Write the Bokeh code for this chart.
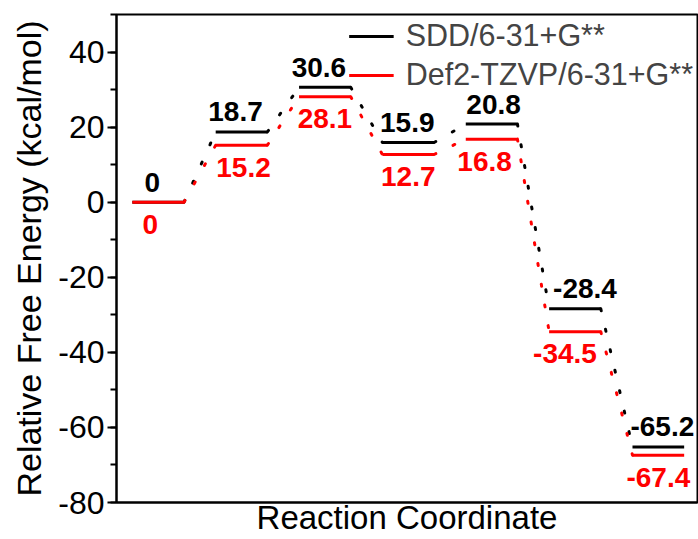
from bokeh.plotting import figure
from bokeh.models import Range1d, FixedTicker, ColumnDataSource, Legend, PrintfTickFormatter
from bokeh.core.properties import value
from bokeh.embed import file_html
from bokeh.resources import INLINE

# ---- data ----
states = [1, 2, 3, 4, 5, 6, 7]
sdd = [0, 18.7, 30.6, 15.9, 20.8, -28.4, -65.2]
def2 = [0, 15.2, 28.1, 12.7, 16.8, -34.5, -67.4]
sdd_labels = ["0", "18.7", "30.6", "15.9", "20.8", "-28.4", "-65.2"]
def2_labels = ["0", "15.2", "28.1", "12.7", "16.8", "-34.5", "-67.4"]
series_names = ["SDD/6-31+G**", "Def2-TZVP/6-31+G**"]
y_ticks = [-80, -60, -40, -20, 0, 20, 40]
x_title = "Reaction Coordinate"
y_title = "Relative Free Energy (kcal/mol)"

# ---- style ----
HW = 0.31  # half width of an energy level (x units)
BLACK = "#000000"
RED = "#ff0000"
FONT = "Liberation Sans"
sdd_dx = [-6, -6, -6, -1, 2, 10, 4]     # label nudges (px)
def2_dx = [-8, 2, 0, 0, -7, -10, 0]

p = figure(width=698, height=538, output_backend="svg", toolbar_location=None,
           x_range=Range1d(0.5, 7.47), y_range=Range1d(-80, 50),
           min_border_left=116, min_border_right=1, min_border_top=14,
           min_border_bottom=36)
p.grid.visible = False
p.outline_line_color = BLACK
p.outline_line_width = 2
p.background_fill_color = "white"
p.border_fill_color = "white"

# y axis
p.yaxis.ticker = FixedTicker(ticks=y_ticks, minor_ticks=list(range(-80, 51, 10)))
p.yaxis.formatter = PrintfTickFormatter(format="%d")
p.yaxis.axis_label = y_title
p.yaxis.axis_label_text_font = FONT
p.yaxis.axis_label_text_font_style = "normal"
p.yaxis.axis_label_text_font_size = "34px"
p.yaxis.axis_label_text_color = BLACK
p.yaxis.axis_label_standoff = 7
p.yaxis.major_label_text_font = FONT
p.yaxis.major_label_text_font_size = "32px"
p.yaxis.major_label_text_color = BLACK
p.yaxis.major_label_standoff = 3
p.yaxis.major_tick_in = 0
p.yaxis.major_tick_out = 9
p.yaxis.minor_tick_in = 0
p.yaxis.minor_tick_out = 6
p.yaxis.axis_line_width = 2
p.yaxis.major_tick_line_width = 2
p.yaxis.minor_tick_line_width = 2

# x axis
p.xaxis.ticker = FixedTicker(ticks=[])
p.xaxis.major_label_text_font_size = "0px"
p.xaxis.major_label_standoff = 0
p.xaxis.major_tick_out = 0
p.xaxis.minor_tick_out = 0
p.xaxis.axis_line_width = 2
p.xaxis.axis_label = x_title
p.xaxis.axis_label_text_font = FONT
p.xaxis.axis_label_text_font_style = "normal"
p.xaxis.axis_label_text_font_size = "33px"
p.xaxis.axis_label_text_color = BLACK
p.xaxis.axis_label_standoff = -4

renderers = []
for vals, color in ((sdd, BLACK), (def2, RED)):
    lvl = ColumnDataSource(dict(
        x0=[s - HW for s in states], x1=[s + HW for s in states],
        y=vals))
    conn = ColumnDataSource(dict(
        x0=[s + HW for s in states[:-1]], x1=[s - HW for s in states[1:]],
        y0=vals[:-1], y1=vals[1:]))
    p.segment(x0="x0", y0="y0", x1="x1", y1="y1", source=conn,
              line_color=color, line_width=3, line_dash="2 19", line_cap="round")
    r = p.segment(x0="x0", y0="y", x1="x1", y1="y", source=lvl,
                  line_color=color, line_width=3)
    renderers.append(r)

# value labels
p.text(x=states, y=sdd, text=sdd_labels, x_offset=sdd_dx, y_offset=-20,
       text_align="center", text_baseline="middle", text_color=BLACK,
       text_font=value(FONT), text_font_style="bold", text_font_size="28px")
p.text(x=states, y=def2, text=def2_labels, x_offset=def2_dx, y_offset=22,
       text_align="center", text_baseline="middle", text_color=RED,
       text_font=value(FONT), text_font_style="bold", text_font_size="28px")

legend = Legend(items=[(series_names[0], [renderers[0]]), (series_names[1], [renderers[1]])],
                location="top_right", margin=0, padding=4, spacing=4,
                label_standoff=12, glyph_width=45,
                label_text_font=FONT, label_text_font_size="30.5px",
                border_line_alpha=0, background_fill_alpha=0)
p.add_layout(legend)

open("out.html", "w").write(file_html(p, INLINE))
